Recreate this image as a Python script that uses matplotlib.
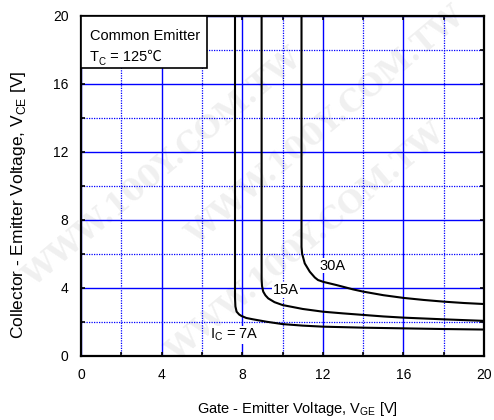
import matplotlib.pyplot as plt
from matplotlib.patches import Rectangle
from matplotlib.ticker import MultipleLocator

plt.rcParams.update({'font.family': ['Liberation Sans', 'Noto Sans CJK SC', 'DejaVu Sans'],
                     'font.size': 10})

# V_CE vs V_GE curves for each collector current (Tc = 125 C)
vge_7a = [7.64, 7.64, 7.66, 7.72, 7.85, 7.96, 8.2, 8.54, 9.2, 10.0, 11.0, 12.0, 14.0, 16.0, 18.0, 20.0]
vce_7a = [20.0, 3.4, 2.9, 2.59, 2.42, 2.34, 2.22, 2.14, 2.0, 1.86, 1.77, 1.71, 1.65, 1.61, 1.57, 1.54]

vge_15a = [8.96, 8.96, 8.98, 9.04, 9.15, 9.29, 9.6, 10.0, 11.0, 12.0, 13.0, 14.0, 15.0, 16.0, 18.0, 20.0]
vce_15a = [20.0, 4.5, 4.1, 3.77, 3.55, 3.37, 3.15, 2.98, 2.75, 2.59, 2.49, 2.40, 2.31, 2.24, 2.14, 2.05]

vge_30a = [10.94, 10.94, 10.97, 11.1, 11.35, 11.6, 11.76, 12.03, 12.66, 13.5, 14.0, 15.0, 16.0, 17.0,
           18.0, 19.0, 20.0]
vce_30a = [20.0, 6.4, 6.0, 5.43, 4.94, 4.6, 4.45, 4.34, 4.16, 3.9, 3.77, 3.56, 3.40, 3.28,
           3.18, 3.10, 3.04]

curve_labels = ['I$_\\mathregular{C}$ = 7A', '15A', '30A']
label_pos = [(6.4, 1.22), (10.16, 3.86), (12.5, 5.3)]

fig = plt.figure(figsize=(4.94, 4.2), dpi=100)
ax = fig.add_axes([0.164, 0.153, 0.816, 0.810])
ax.set_facecolor('none')

# faint site watermark behind everything
for wx, wy in [(0.33, 0.6), (0.62, 0.42), (0.66, 0.7)]:
    fig.text(wx, wy, 'WWW.100Y.COM.TW', fontsize=22, family='DejaVu Serif', weight='bold',
             color='#f0f0f0', rotation=40, ha='center', va='center', zorder=-1)

ax.plot(vge_7a, vce_7a, color='black', lw=1.5, zorder=4)
ax.plot(vge_15a, vce_15a, color='black', lw=1.5, zorder=4)
ax.plot(vge_30a, vce_30a, color='black', lw=1.5, zorder=4)

for txt, (lx, ly) in zip(curve_labels, label_pos):
    ha = 'left' if lx < 7 else 'center'
    ax.text(lx, ly, txt, fontsize=10.5, ha=ha, va='center', zorder=5,
            bbox=dict(facecolor='white', edgecolor='none', pad=0.5))

ax.set_xlim(0, 20)
ax.set_ylim(0, 20)
ax.xaxis.set_major_locator(MultipleLocator(4))
ax.xaxis.set_minor_locator(MultipleLocator(2))
ax.yaxis.set_major_locator(MultipleLocator(4))
ax.yaxis.set_minor_locator(MultipleLocator(2))
ax.grid(which='major', color='#0000ff', lw=1.0, ls='-', zorder=1)
ax.grid(which='minor', color='#0000ff', lw=0.9, ls=(0, (1, 1)), zorder=1)
ax.set_axisbelow(True)
ax.tick_params(which='both', direction='in', top=True, right=True, length=3, width=1.2,
               labelsize=10, pad=9)
for s in ax.spines.values():
    s.set_linewidth(1.6)

ax.set_xlabel('Gate - Emitter Voltage, V$_\\mathregular{GE}$ [V]', fontsize=10.5, va='center')
ax.set_ylabel('Collector - Emitter Voltage, V$_\\mathregular{CE}$ [V]', fontsize=12.5, va='center')
ax.xaxis.set_label_coords(0.537, -0.157)
ax.yaxis.set_label_coords(-0.154, 0.443)

# condition box in the upper-left corner
ax.add_patch(Rectangle((0, 0.846), 0.313, 0.154, transform=ax.transAxes, facecolor='white',
                       edgecolor='black', lw=1.2, zorder=6, clip_on=False))
ax.text(0.022, 0.940, 'Common Emitter', transform=ax.transAxes, fontsize=10.5,
        va='center', ha='left', zorder=7)
# T_C built from pieces so the degree-Celsius sign can fall back to a CJK font
t_main = ax.text(0.022, 0.857, 'T', transform=ax.transAxes, fontsize=10.5,
                 va='bottom', ha='left', zorder=7)
t_sub = ax.annotate('C', xy=(1.0, 0.18), xycoords=t_main, fontsize=7,
                    va='center', ha='left', zorder=7)
ax.annotate(' = 125\u2103', xy=(1.0, 0.0), xycoords=(t_sub, t_main), fontsize=10.5,
            va='bottom', ha='left', zorder=7)

fig.savefig('out.png', dpi=100)
